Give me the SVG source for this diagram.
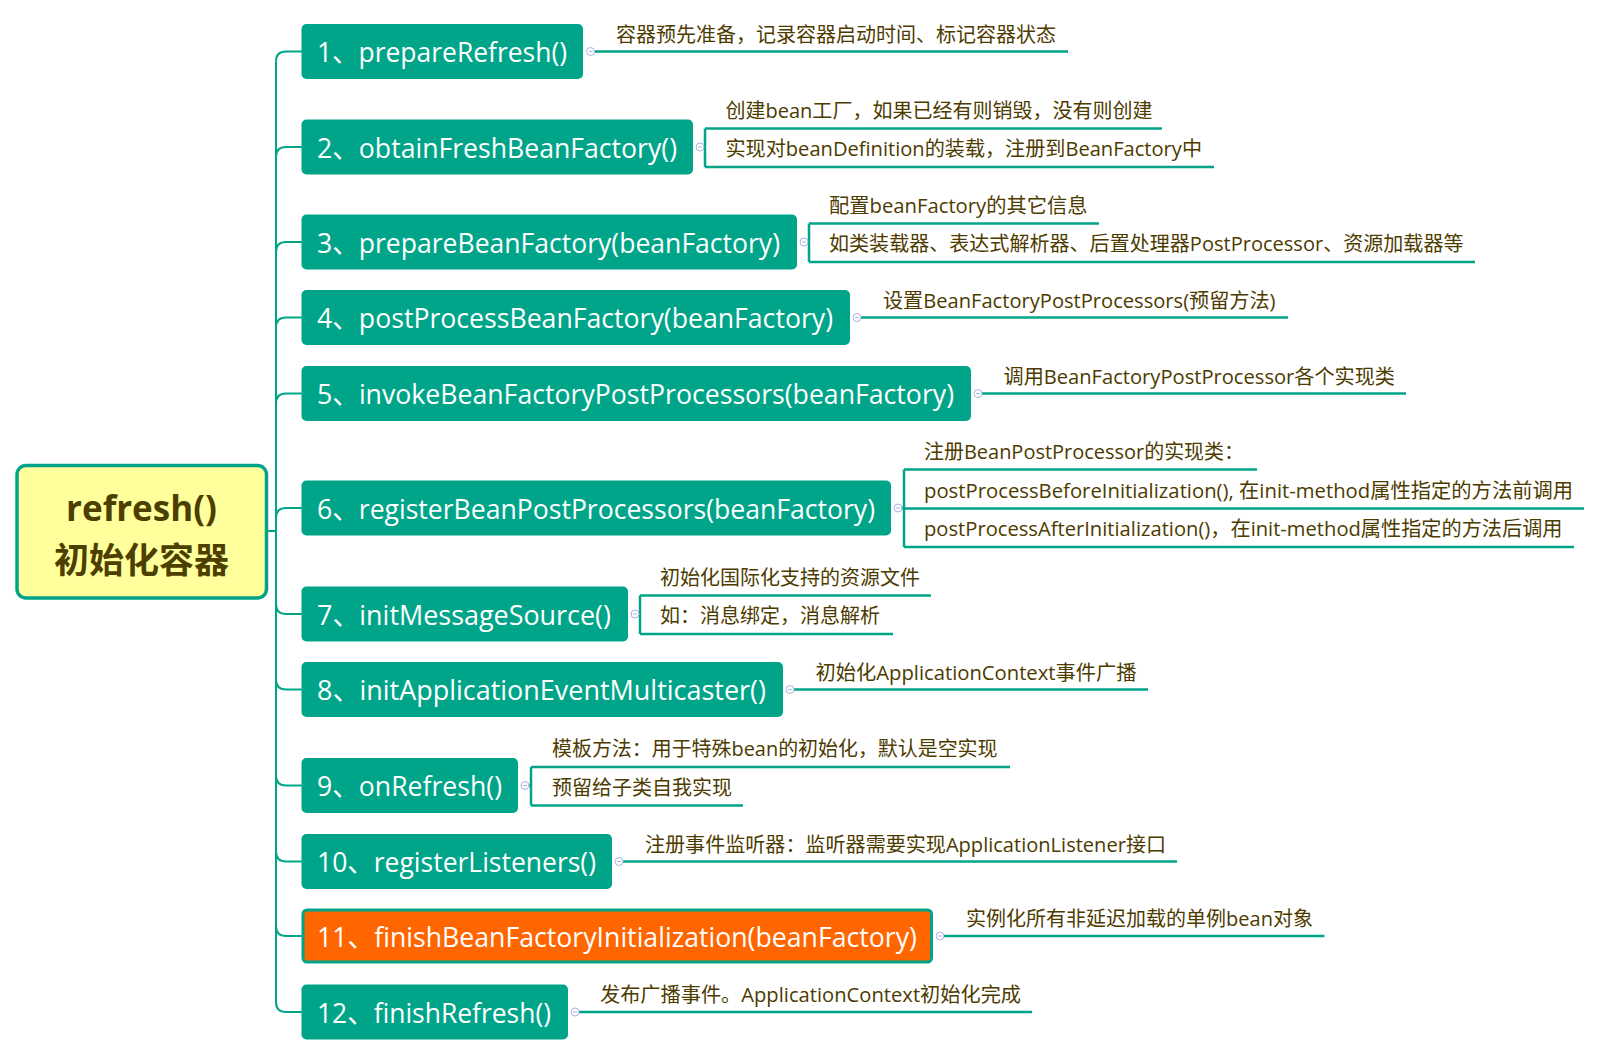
<svg xmlns="http://www.w3.org/2000/svg" width="1602" height="1056" viewBox="0 0 1602 1056">
<style>
.bg{fill:#ffffff}
.spine{fill:none;stroke:#00a589;stroke-width:2}
.sub{fill:none;stroke:#00a589;stroke-width:2.5}
.node{fill:#00a589}
.hot{fill:#ff6600;stroke:#00a589;stroke-width:3}
.nt{font-family:"Open Sans","Noto Sans CJK SC",sans-serif;font-size:28px;fill:#ffffff}
.lt{font-family:"Open Sans","Noto Sans CJK SC",sans-serif;font-size:20px;fill:#4d3b00}
.root{fill:#ffff9c;stroke:#00a589;stroke-width:3.5}
.rt{font-family:"Open Sans","Noto Sans CJK SC",sans-serif;font-size:35px;font-weight:bold;fill:#4d3f00;text-anchor:middle}
.tog{fill:#ffffff;stroke:#a9b3e3;stroke-width:1}
.togm{stroke:#a9b3e3;stroke-width:1}
</style>
<defs>
<g id="toggle"><circle class="tog" cx="0" cy="0" r="4"/><line class="togm" x1="-2" y1="0" x2="2" y2="0"/></g>
</defs>
<rect class="bg" x="0" y="0" width="1602" height="1056"/>

<g id="connectors">
<path class="spine" d="M267,531 H276"/>
<path class="spine" d="M276,61.5 V1002"/>
<path class="spine" d="M276,61.5 Q276,51.5 286,51.5 H302"/>
<path class="spine" d="M276,157 Q276,147 286,147 H302"/>
<path class="spine" d="M276,252 Q276,242 286,242 H302"/>
<path class="spine" d="M276,327.5 Q276,317.5 286,317.5 H302"/>
<path class="spine" d="M276,403.5 Q276,393.5 286,393.5 H302"/>
<path class="spine" d="M276,518 Q276,508 286,508 H302"/>
<path class="spine" d="M276,604 Q276,614 286,614 H302"/>
<path class="spine" d="M276,679.5 Q276,689.5 286,689.5 H302"/>
<path class="spine" d="M276,775.5 Q276,785.5 286,785.5 H302"/>
<path class="spine" d="M276,851.5 Q276,861.5 286,861.5 H302"/>
<path class="spine" d="M276,926 Q276,936 286,936 H302"/>
<path class="spine" d="M276,1002 Q276,1012 286,1012 H302"/>

<path class="sub" d="M594.5,51.5 H1068"/>
<path class="sub" d="M704,147 H705 M705,128.5 V167 M705,128.5 H1162 M705,167 H1214"/>
<path class="sub" d="M808,242 H809 M809,223.5 V262 M809,223.5 H1099 M809,262 H1475"/>
<path class="sub" d="M861,317.5 H1288"/>
<path class="sub" d="M982,393.5 H1406"/>
<path class="sub" d="M902,508 H904 M904,469.5 V547 M904,469.5 H1257 M904,508.5 H1584 M904,547 H1574"/>
<path class="sub" d="M639,614 H640 M640,595.5 V634 M640,595.5 H931 M640,634 H893"/>
<path class="sub" d="M794,689.5 H1148"/>
<path class="sub" d="M529,785.5 H531 M531,767 V805.5 M531,767 H1010 M531,805.5 H743"/>
<path class="sub" d="M623,861.5 H1177"/>
<path class="sub" d="M944,936 H1324.5"/>
<path class="sub" d="M579,1012 H1032"/>
</g>

<g id="root">
<rect class="root" x="17" y="465.5" width="249.5" height="132.5" rx="9"/>
<text class="rt" x="141.5" y="521">refresh()</text>
<text class="rt" x="141.5" y="573">初始化容器</text>
</g>

<g id="n1">
<rect class="node" x="301.5" y="24" width="281.5" height="55" rx="5"/>
<text class="nt" x="317" y="62" textLength="250" lengthAdjust="spacingAndGlyphs">1、prepareRefresh()</text>
<use href="#toggle" x="590.5" y="51.5"/>
<text class="lt" x="616" y="41.5">容器预先准备，记录容器启动时间、标记容器状态</text>
</g>

<g id="n2">
<rect class="node" x="301.5" y="119.5" width="391.5" height="55" rx="5"/>
<text class="nt" x="317" y="157.5" textLength="360" lengthAdjust="spacingAndGlyphs">2、obtainFreshBeanFactory()</text>
<use href="#toggle" x="700" y="147"/>
<text class="lt" x="725.5" y="117.5" textLength="427" lengthAdjust="spacingAndGlyphs">创建bean工厂，如果已经有则销毁，没有则创建</text>
<text class="lt" x="725.5" y="156" textLength="476.5" lengthAdjust="spacingAndGlyphs">实现对beanDefinition的装载，注册到BeanFactory中</text>
</g>

<g id="n3">
<rect class="node" x="301.5" y="214.5" width="495.5" height="55" rx="5"/>
<text class="nt" x="317" y="252.5" textLength="463" lengthAdjust="spacingAndGlyphs">3、prepareBeanFactory(beanFactory)</text>
<use href="#toggle" x="804" y="242"/>
<text class="lt" x="829" y="212.5" textLength="258.5" lengthAdjust="spacingAndGlyphs">配置beanFactory的其它信息</text>
<text class="lt" x="829" y="251" textLength="634.5" lengthAdjust="spacingAndGlyphs">如类装载器、表达式解析器、后置处理器PostProcessor、资源加载器等</text>
</g>

<g id="n4">
<rect class="node" x="301.5" y="290" width="548.5" height="55" rx="5"/>
<text class="nt" x="317" y="328" textLength="516" lengthAdjust="spacingAndGlyphs">4、postProcessBeanFactory(beanFactory)</text>
<use href="#toggle" x="857" y="317.5"/>
<text class="lt" x="883" y="307.5" textLength="392.5" lengthAdjust="spacingAndGlyphs">设置BeanFactoryPostProcessors(预留方法)</text>
</g>

<g id="n5">
<rect class="node" x="301.5" y="366" width="669.5" height="55" rx="5"/>
<text class="nt" x="317" y="404" textLength="637" lengthAdjust="spacingAndGlyphs">5、invokeBeanFactoryPostProcessors(beanFactory)</text>
<use href="#toggle" x="978" y="393.5"/>
<text class="lt" x="1003.5" y="383.5" textLength="391.5" lengthAdjust="spacingAndGlyphs">调用BeanFactoryPostProcessor各个实现类</text>
</g>

<g id="n6">
<rect class="node" x="301.5" y="480.5" width="589.5" height="55" rx="5"/>
<text class="nt" x="317" y="518.5" textLength="558" lengthAdjust="spacingAndGlyphs">6、registerBeanPostProcessors(beanFactory)</text>
<use href="#toggle" x="898" y="508"/>
<text class="lt" x="924" y="458.5" textLength="320" lengthAdjust="spacingAndGlyphs">注册BeanPostProcessor的实现类：</text>
<text class="lt" x="924" y="497.5" textLength="649" lengthAdjust="spacingAndGlyphs">postProcessBeforeInitialization(), 在init-method属性指定的方法前调用</text>
<text class="lt" x="924" y="536" textLength="638.5" lengthAdjust="spacingAndGlyphs">postProcessAfterInitialization()，在init-method属性指定的方法后调用</text>
</g>

<g id="n7">
<rect class="node" x="301.5" y="586.5" width="326.5" height="55" rx="5"/>
<text class="nt" x="317" y="624.5" textLength="294" lengthAdjust="spacingAndGlyphs">7、initMessageSource()</text>
<use href="#toggle" x="635" y="614"/>
<text class="lt" x="660" y="584.5">初始化国际化支持的资源文件</text>
<text class="lt" x="660" y="623">如：消息绑定，消息解析</text>
</g>

<g id="n8">
<rect class="node" x="301.5" y="662" width="481.5" height="55" rx="5"/>
<text class="nt" x="317" y="700" textLength="449" lengthAdjust="spacingAndGlyphs">8、initApplicationEventMulticaster()</text>
<use href="#toggle" x="790" y="689.5"/>
<text class="lt" x="815.5" y="679.5" textLength="321" lengthAdjust="spacingAndGlyphs">初始化ApplicationContext事件广播</text>
</g>

<g id="n9">
<rect class="node" x="301.5" y="758" width="216.5" height="55" rx="5"/>
<text class="nt" x="317" y="796" textLength="185" lengthAdjust="spacingAndGlyphs">9、onRefresh()</text>
<use href="#toggle" x="525" y="785.5"/>
<text class="lt" x="552" y="756" textLength="445.5" lengthAdjust="spacingAndGlyphs">模板方法：用于特殊bean的初始化，默认是空实现</text>
<text class="lt" x="552" y="794.5">预留给子类自我实现</text>
</g>

<g id="n10">
<rect class="node" x="301.5" y="834" width="310.5" height="55" rx="5"/>
<text class="nt" x="317" y="872" textLength="279" lengthAdjust="spacingAndGlyphs">10、registerListeners()</text>
<use href="#toggle" x="619" y="861.5"/>
<text class="lt" x="645" y="851.5" textLength="521" lengthAdjust="spacingAndGlyphs">注册事件监听器：监听器需要实现ApplicationListener接口</text>
</g>

<g id="n11">
<rect class="hot" x="303" y="910" width="628.5" height="52" rx="4"/>
<text class="nt" x="317" y="946.5" textLength="600" lengthAdjust="spacingAndGlyphs">11、finishBeanFactoryInitialization(beanFactory)</text>
<use href="#toggle" x="940" y="936"/>
<text class="lt" x="966" y="926" textLength="347" lengthAdjust="spacingAndGlyphs">实例化所有非延迟加载的单例bean对象</text>
</g>

<g id="n12">
<rect class="node" x="301.5" y="984.5" width="266.5" height="55" rx="5"/>
<text class="nt" x="317" y="1022.5" textLength="234" lengthAdjust="spacingAndGlyphs">12、finishRefresh()</text>
<use href="#toggle" x="575" y="1012"/>
<text class="lt" x="600" y="1002" textLength="421" lengthAdjust="spacingAndGlyphs">发布广播事件。ApplicationContext初始化完成</text>
</g>
</svg>
